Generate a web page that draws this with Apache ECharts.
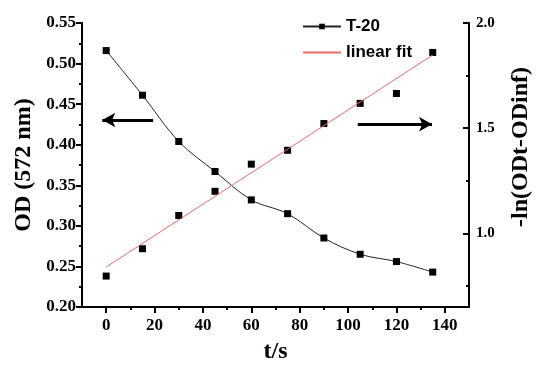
<!DOCTYPE html>
<html>
<head>
<meta charset="utf-8">
<script src="https://cdn.jsdelivr.net/npm/echarts@6/dist/echarts.min.js"></script>
<style>html,body{margin:0;padding:0;background:#fff;}#c{width:550px;height:372px;}</style>
</head>
<body>
<div id="c"></div>
<script>
var times = [0, 15, 30, 45, 60, 75, 90, 105, 120, 135];
var odValues = [0.516, 0.461, 0.404, 0.367, 0.332, 0.315, 0.285, 0.265, 0.256, 0.243];
var lnValues = [0.797, 0.927, 1.085, 1.200, 1.329, 1.395, 1.522, 1.618, 1.665, 1.860];
var fitTimes = [0, 135];
var fitValues = [0.84, 1.848];
var xMajorTicks = [0, 20, 40, 60, 80, 100, 120, 140];
var xMinorTicks = [10, 30, 50, 70, 90, 110, 130];
var rightMajorTicks = [1.0, 1.5, 2.0];
var rightMinorTicks = [0.75, 1.25, 1.75];
var leftArrow = { fromT: 19.4, toT: -1.6, value: 0.4305 };
var rightArrow = { fromT: 104, toT: 134.7, value: 1.519 };

var serif = 'Liberation Serif';
var sans = 'Liberation Sans';
function zip(a, b) { return a.map(function (v, i) { return [v, b[i]]; }); }

var chart = echarts.init(document.getElementById('c'));
chart.setOption({
  animation: false,
  backgroundColor: '#fff',
  grid: { left: 82, right: 81, top: 23, bottom: 65 },
  legend: {
    orient: 'vertical', left: 297, top: 13, itemGap: 9,
    itemWidth: 38, itemHeight: 7,
    data: [{ name: 'T-20' }, { name: 'linear fit', itemStyle: { opacity: 0 } }],
    textStyle: { fontFamily: sans, fontWeight: 'bold', fontSize: 17, color: '#000' }
  },
  xAxis: [{
    type: 'value', min: -10, max: 150,
    name: 't/s', nameLocation: 'middle', nameGap: 33,
    nameTextStyle: { fontFamily: serif, fontWeight: 'bold', fontSize: 24, color: '#000' },
    axisLine: { onZero: false, lineStyle: { color: '#000', width: 2 } },
    axisTick: { show: true, customValues: xMajorTicks, length: 6, lineStyle: { color: '#000', width: 2 } },
    axisLabel: { customValues: xMajorTicks, margin: 10, fontFamily: serif, fontWeight: 'bold', fontSize: 17, color: '#000' },
    splitLine: { show: false }
  }, {
    type: 'value', min: -10, max: 150, position: 'bottom',
    axisLine: { show: false, onZero: false },
    axisTick: { show: true, customValues: xMinorTicks, length: 3, lineStyle: { color: '#000', width: 2 } },
    axisLabel: { show: false },
    splitLine: { show: false }
  }],
  yAxis: [{
    type: 'value', min: 0.2, max: 0.55, interval: 0.05, position: 'left',
    name: 'OD (572 nm)', nameLocation: 'middle', nameGap: 41,
    nameTextStyle: { fontFamily: serif, fontWeight: 'bold', fontSize: 24, color: '#000' },
    axisLine: { show: true, onZero: false, lineStyle: { color: '#000', width: 2 } },
    axisTick: { show: true, length: 6, lineStyle: { color: '#000', width: 2 } },
    minorTick: { show: true, splitNumber: 2, length: 3, lineStyle: { color: '#000', width: 2 } },
    axisLabel: { margin: 6, fontFamily: serif, fontWeight: 'bold', fontSize: 17, color: '#000',
      formatter: function (v) { return v.toFixed(2); } },
    splitLine: { show: false }
  }, {
    type: 'value', min: 0.65, max: 2.0, position: 'right',
    name: '-ln(ODt-ODinf)', nameLocation: 'middle', nameGap: 40,
    nameTextStyle: { fontFamily: serif, fontWeight: 'bold', fontSize: 24, color: '#000', padding: [0, 0, 0, 36] },
    axisLine: { show: true, onZero: false, lineStyle: { color: '#000', width: 2 } },
    axisTick: { show: true, inside: true, customValues: rightMajorTicks, length: 6, lineStyle: { color: '#000', width: 2 } },
    axisLabel: { customValues: rightMajorTicks, margin: 7, fontFamily: serif, fontWeight: 'bold', fontSize: 15, color: '#000',
      formatter: function (v) { return v.toFixed(1); } },
    splitLine: { show: false }
  }, {
    type: 'value', min: 0.65, max: 2.0, position: 'right',
    axisLine: { show: false, onZero: false },
    axisTick: { show: true, inside: true, customValues: rightMinorTicks, length: 3, lineStyle: { color: '#000', width: 2 } },
    axisLabel: { show: false },
    splitLine: { show: false }
  }],
  series: [{
    name: 'T-20', type: 'line', xAxisIndex: 0, yAxisIndex: 0,
    data: zip(times, odValues), smooth: 0.35,
    symbol: 'rect', symbolSize: 7, showSymbol: true,
    itemStyle: { color: '#000' },
    lineStyle: { color: '#222', width: 1 },
    markLine: {
      silent: true, symbol: ['none', 'arrow'], symbolSize: [11, 13],
      label: { show: false },
      lineStyle: { color: '#000', width: 3, type: 'solid' },
      data: [[{ coord: [leftArrow.fromT, leftArrow.value] }, { coord: [leftArrow.toT, leftArrow.value] }]]
    }
  }, {
    name: 'ln', type: 'scatter', xAxisIndex: 0, yAxisIndex: 1,
    data: zip(times, lnValues),
    symbol: 'rect', symbolSize: 7,
    itemStyle: { color: '#000', opacity: 1 },
    markLine: {
      silent: true, symbol: ['none', 'arrow'], symbolSize: [11, 13],
      label: { show: false },
      lineStyle: { color: '#000', width: 3, type: 'solid' },
      data: [[{ coord: [rightArrow.fromT, rightArrow.value] }, { coord: [rightArrow.toT, rightArrow.value] }]]
    }
  }, {
    name: 'linear fit', type: 'line', xAxisIndex: 0, yAxisIndex: 1,
    data: zip(fitTimes, fitValues), showSymbol: false, symbol: 'none',
    itemStyle: { color: '#e86a6a' },
    lineStyle: { color: '#e86a6a', width: 1 }
  }]
});
</script>
</body>
</html>
